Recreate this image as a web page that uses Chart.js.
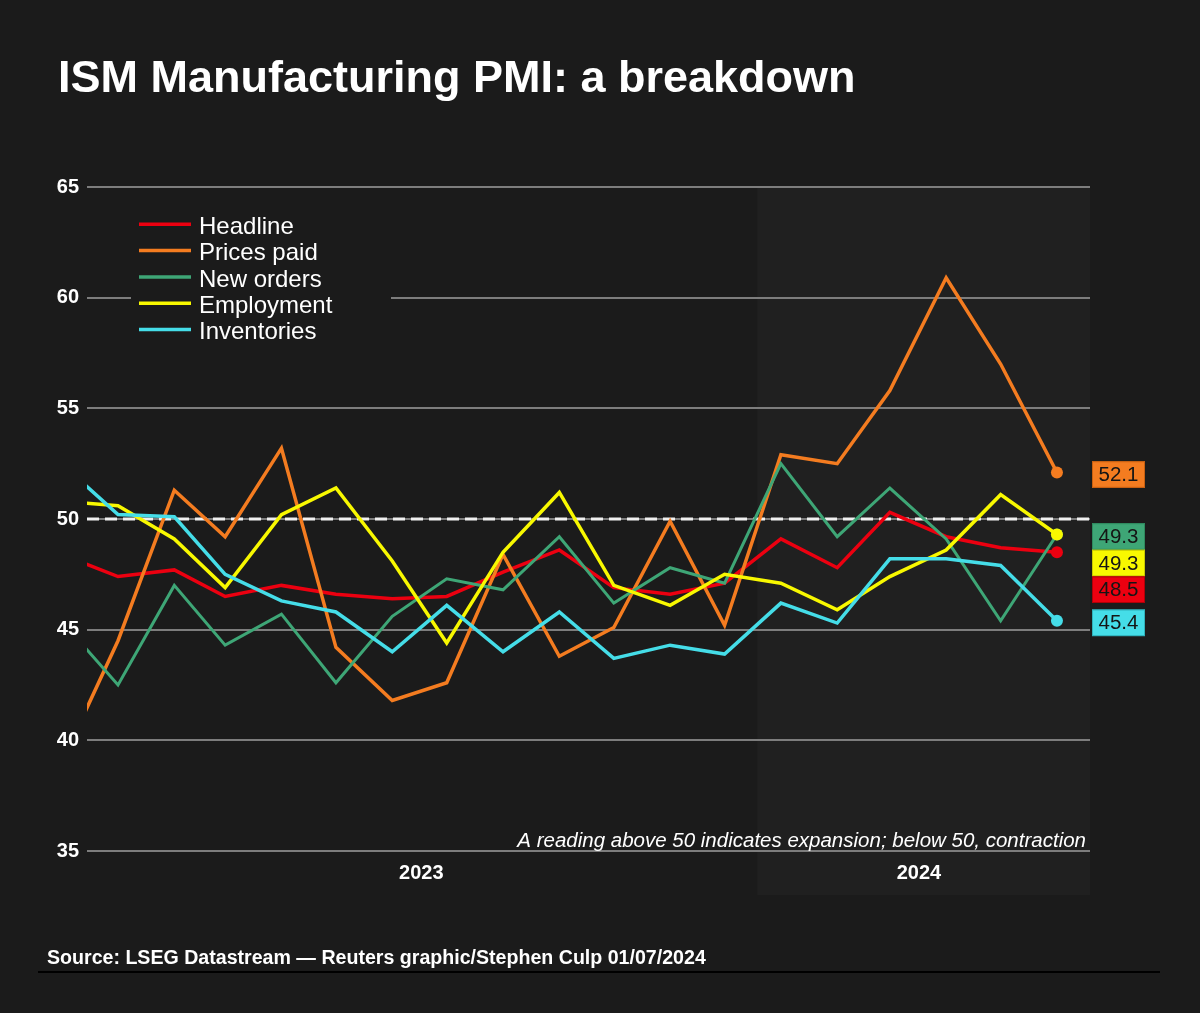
<!DOCTYPE html>
<html><head><meta charset="utf-8">
<script src="https://cdn.jsdelivr.net/npm/chart.js@4.4.1/dist/chart.umd.min.js"></script>
<style>
html,body{margin:0;padding:0;background:#1b1b1b;}
#wrap{position:relative;width:1200px;height:1013px;overflow:hidden;background:#1b1b1b;}
canvas{position:absolute;left:0;top:0;}
#title{position:absolute;left:58px;top:54px;font:bold 45px/45px "Liberation Sans",Arial,sans-serif;color:#fff;white-space:nowrap;}
#source{position:absolute;left:47px;top:947px;font:bold 19.6px/20px "Liberation Sans",Arial,sans-serif;color:#fff;white-space:nowrap;}
#rule{position:absolute;left:38px;top:971px;width:1122px;height:2px;background:#000;}
</style></head>
<body><div id="wrap"><canvas id="c" width="1200" height="1013"></canvas>
<div id="title">ISM Manufacturing PMI: a breakdown</div>
<div id="source">Source: LSEG Datastream — Reuters graphic/Stephen Culp 01/07/2024</div>
<div id="rule"></div></div>
<script>
// ---- data ----
const months = ['2022-12','2023-01','2023-02','2023-03','2023-04','2023-05','2023-06','2023-07','2023-08','2023-09','2023-10','2023-11','2023-12','2024-01','2024-02','2024-03','2024-04','2024-05','2024-06'];
const headline    = [48.4, 47.4, 47.7, 46.5, 47.0, 46.6, 46.4, 46.5, 47.6, 48.6, 46.9, 46.6, 47.1, 49.1, 47.8, 50.3, 49.2, 48.7, 48.5];
const pricesPaid  = [39.0, 44.5, 51.3, 49.2, 53.2, 44.2, 41.8, 42.6, 48.4, 43.8, 45.1, 49.9, 45.2, 52.9, 52.5, 55.8, 60.9, 57.0, 52.1];
const newOrders   = [45.4, 42.5, 47.0, 44.3, 45.7, 42.6, 45.6, 47.3, 46.8, 49.2, 46.2, 47.8, 47.1, 52.5, 49.2, 51.4, 49.1, 45.4, 49.3];
const employment  = [50.8, 50.6, 49.1, 46.9, 50.2, 51.4, 48.1, 44.4, 48.5, 51.2, 47.0, 46.1, 47.5, 47.1, 45.9, 47.4, 48.6, 51.1, 49.3];
const inventories = [52.5, 50.2, 50.1, 47.5, 46.3, 45.8, 44.0, 46.1, 44.0, 45.8, 43.7, 44.3, 43.9, 46.2, 45.3, 48.2, 48.2, 47.9, 45.4];
const seriesNames = ['Headline','Prices paid','New orders','Employment','Inventories'];
const seriesValues = [headline, pricesPaid, newOrders, employment, inventories];
const yearLabels = ['2023','2024'];
const yTickValues = [35, 40, 45, 50, 55, 60, 65];
const referenceLevel = 50;
const noteText = 'A reading above 50 indicates expansion; below 50, contraction';

// ---- styling ----
const FONT = '"Liberation Sans", Arial, sans-serif';
const seriesColors = ['#ec0010','#f47c20','#3ea676','#f8f800','#45dde8'];
const labelBorders = ['#b00008','#c85f10','#2e8a5e','#c8c800','#2fb2bb'];
const BG = '#1b1b1b';

const dayOf = s => { const [y, m] = s.split('-').map(Number); return (Date.UTC(y, m - 1, 1) - Date.UTC(2023, 0, 1)) / 864e5; };
const xs = months.map(dayOf);
const yearTickValues = yearLabels.map(y => {
  const d = months.filter(m => m.startsWith(y)).map(dayOf);
  return (d[0] + d[d.length - 1]) / 2;
});
const shadeStartDay = 352;

const bgPlugin = {
  id: 'bg',
  beforeDraw(chart) {
    const {ctx, chartArea, scales} = chart;
    ctx.save();
    ctx.fillStyle = BG;
    ctx.fillRect(0, 0, chart.width, chart.height);
    const x0 = scales.x.getPixelForValue(shadeStartDay);
    ctx.fillStyle = '#202020';
    ctx.fillRect(x0, chartArea.top, chartArea.right - x0, 895 - chartArea.top);
    ctx.restore();
  }
};

const refLinePlugin = {
  id: 'refLine',
  beforeDatasetsDraw(chart) {
    const {ctx, chartArea, scales} = chart;
    const y = scales.y.getPixelForValue(referenceLevel);
    ctx.save();
    ctx.strokeStyle = '#f0f0f0';
    ctx.lineWidth = 3;
    ctx.setLineDash([12, 6]);
    ctx.beginPath();
    ctx.moveTo(chartArea.left, y);
    ctx.lineTo(chartArea.right, y);
    ctx.stroke();
    ctx.restore();
  }
};

const overlayPlugin = {
  id: 'overlay',
  afterDraw(chart) {
    const {ctx, chartArea, scales} = chart;
    ctx.save();
    // legend
    ctx.fillStyle = BG;
    ctx.fillRect(131, 206, 260, 144);
    chart.data.datasets.forEach((ds, i) => {
      const yc = 224.3 + i * 26.3;
      ctx.strokeStyle = ds.borderColor;
      ctx.lineWidth = 3.5;
      ctx.beginPath();
      ctx.moveTo(139, yc);
      ctx.lineTo(191, yc);
      ctx.stroke();
      ctx.fillStyle = '#ffffff';
      ctx.font = '24px ' + FONT;
      ctx.textAlign = 'left';
      ctx.textBaseline = 'alphabetic';
      ctx.fillText(ds.label, 199, yc + 9.7);
    });
    // end-value labels
    const items = chart.data.datasets.map((ds, i) => {
      const v = seriesValues[i][seriesValues[i].length - 1];
      return {v, i, y: scales.y.getPixelForValue(v) + 2};
    });
    items.sort((a, b) => a.y - b.y);
    const h = 26.6;
    let prevBottom = -Infinity;
    items.forEach(it => {
      let top = it.y - h / 2;
      if (top < prevBottom) top = prevBottom;
      prevBottom = top + h;
      ctx.fillStyle = seriesColors[it.i];
      ctx.fillRect(1092, top, 53, h);
      ctx.strokeStyle = labelBorders[it.i];
      ctx.lineWidth = 1;
      ctx.strokeRect(1092.5, top + 0.5, 52, h - 1);
      ctx.fillStyle = '#151515';
      ctx.font = '20.5px ' + FONT;
      ctx.textAlign = 'center';
      ctx.textBaseline = 'middle';
      ctx.fillText(it.v.toFixed(1), 1118.5, top + h / 2 + 1);
    });
    // note
    ctx.fillStyle = '#ffffff';
    ctx.font = 'italic 20.5px ' + FONT;
    ctx.textAlign = 'right';
    ctx.textBaseline = 'alphabetic';
    ctx.fillText(noteText, 1086, 846.5);
    ctx.restore();
  }
};

new Chart(document.getElementById('c'), {
  type: 'line',
  data: {
    datasets: seriesNames.map((name, k) => ({
      label: name,
      data: seriesValues[k].map((v, i) => ({x: xs[i], y: v})),
      borderColor: seriesColors[k],
      backgroundColor: seriesColors[k],
      borderWidth: k === 2 ? 3 : 3.5,
      pointRadius: ctx => ctx.dataIndex === seriesValues[k].length - 1 ? 6 : 0,
      pointBorderWidth: 0,
      pointHoverRadius: 0,
      tension: 0,
      order: -k,
      clip: 0
    }))
  },
  options: {
    responsive: false,
    animation: false,
    devicePixelRatio: 1,
    events: [],
    layout: {padding: {top: 187, right: 110, bottom: 102, left: 0}},
    plugins: {legend: {display: false}, tooltip: {enabled: false}, title: {display: false}},
    scales: {
      x: {
        type: 'linear',
        min: -17.07,
        max: 535.2,
        grid: {display: false},
        border: {display: false},
        afterBuildTicks: s => { s.ticks = yearTickValues.map(v => ({value: v})); },
        afterFit: s => { s.height = 60; },
        ticks: {
          color: '#ffffff',
          font: {family: FONT, size: 20, weight: 'bold'},
          maxRotation: 0, autoSkip: false, padding: 2,
          callback: (v, i) => yearLabels[i]
        }
      },
      y: {
        min: 35, max: 65,
        afterBuildTicks: s => { s.ticks = yTickValues.map(v => ({value: v})); },
        afterFit: s => { s.width = 87; },
        grid: {color: '#7d7d7d', lineWidth: 2, drawTicks: false},
        border: {display: false},
        ticks: {
          color: '#ffffff',
          font: {family: FONT, size: 20, weight: 'bold'},
          padding: 8
        }
      }
    }
  },
  plugins: [bgPlugin, refLinePlugin, overlayPlugin]
});
</script>
</body></html>
